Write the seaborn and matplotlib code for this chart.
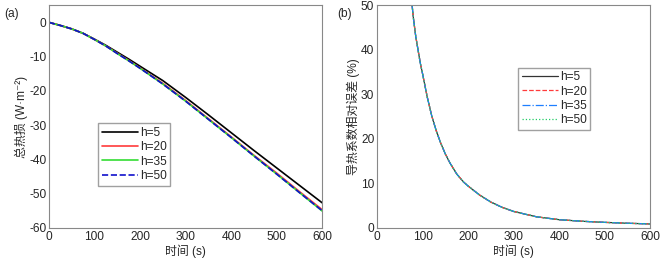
import numpy as np
import pandas as pd
import matplotlib
matplotlib.use('Agg')
import matplotlib.pyplot as plt
import seaborn as sns

# (a) total heat loss
t_a = [0, 25, 50, 75, 100, 125, 150, 175, 200, 250, 300, 350, 400, 450, 500, 550, 600]
loss_h5 = [0, -0.9, -1.9, -3.2, -4.9, -6.7, -8.7, -10.7, -12.8, -17.0, -21.9, -27.0, -32.2, -37.4, -42.5, -47.6, -52.7]
loss_h20 = [0, -0.9, -1.9, -3.2, -5.0, -6.9, -9.0, -11.1, -13.3, -17.8, -22.8, -28.1, -33.4, -38.8, -44.0, -49.4, -54.7]
loss_h35 = [0, -0.9, -1.9, -3.2, -5.0, -6.9, -9.1, -11.2, -13.4, -18.0, -23.0, -28.3, -33.6, -39.0, -44.3, -49.7, -55.1]
loss_h50 = [0, -0.9, -1.9, -3.2, -5.0, -6.9, -9.1, -11.2, -13.4, -18.0, -23.0, -28.3, -33.6, -39.0, -44.3, -49.7, -55.0]

# (b) relative error of thermal conductivity (all four curves overlap)
t_b = [77, 80, 85, 90, 95, 100, 110, 120, 130, 140, 150, 160, 175, 190, 200, 225, 250, 275, 300, 350, 400, 450, 500, 550, 600]
err = [50, 47, 43, 40, 37, 34.6, 29.5, 25.2, 21.8, 19.0, 16.6, 14.6, 12.1, 10.3, 9.4, 7.4, 5.8, 4.6, 3.7, 2.5, 1.85, 1.5, 1.25, 1.05, 0.9]

labels = ['h=5', 'h=20', 'h=35', 'h=50']

sns.set_theme(style='white')
plt.rcParams['font.family'] = ['Liberation Sans', 'Noto Sans CJK SC', 'DejaVu Sans']
plt.rcParams['axes.unicode_minus'] = False

df_a = pd.concat([pd.DataFrame({'t': t_a, 'v': v, 'h': lab})
                  for v, lab in zip([loss_h5, loss_h20, loss_h35, loss_h50], labels)])
df_b = pd.concat([pd.DataFrame({'t': t_b, 'v': err, 'h': lab}) for lab in labels])

fig, (ax1, ax2) = plt.subplots(1, 2, figsize=(6.61, 2.62), dpi=100)
fig.subplots_adjust(left=0.074, right=0.984, top=0.98, bottom=0.13, wspace=0.2)

fs = 8.6
cols_a = ['#000000', '#ff3b3b', '#33dd33', '#1010cc']
styles_a = ['-', '-', '-', '--']
for lab, c, ls in zip(labels, cols_a, styles_a):
    sns.lineplot(data=df_a[df_a['h'] == lab], x='t', y='v', ax=ax1, color=c,
                 linestyle=ls, linewidth=1.2, label=lab)

cols_b = ['#333333', '#ff3b3b', '#1e7fff', '#22cc66']
styles_b = ['-', '--', '-.', ':']
for lab, c, ls in zip(labels, cols_b, styles_b):
    sns.lineplot(data=df_b[df_b['h'] == lab], x='t', y='v', ax=ax2, color=c,
                 linestyle=ls, linewidth=0.9, label=lab)

ax1.set_xlim(0, 600)
ax1.set_ylim(-60, 5)
ax1.set_yticks(range(-60, 1, 10))
ax1.set_xticks(range(0, 601, 100))
ax1.set_xlabel('时间 (s)', fontsize=fs, labelpad=1)
ax1.set_ylabel('总热损 (W·m⁻²)', fontsize=fs, labelpad=1)

ax2.set_xlim(0, 600)
ax2.set_ylim(0, 50)
ax2.set_xticks(range(0, 601, 100))
ax2.set_yticks(range(0, 51, 10))
ax2.set_xlabel('时间 (s)', fontsize=fs, labelpad=1)
ax2.set_ylabel('导热系数相对误差 (%)', fontsize=fs, labelpad=1)

for ax in (ax1, ax2):
    ax.tick_params(axis='both', labelsize=fs, length=0, pad=2)
    for s in ax.spines.values():
        s.set_edgecolor('#888888')
        s.set_linewidth(0.8)

leg1 = ax1.legend(loc='lower left', bbox_to_anchor=(0.18, 0.19), fontsize=fs,
                  frameon=True, fancybox=False, handlelength=3.0, handletextpad=0.2,
                  borderpad=0.3, labelspacing=0.2, borderaxespad=0)
leg1.get_frame().set_edgecolor('#888888')
leg2 = ax2.legend(loc='lower left', bbox_to_anchor=(0.516, 0.44), fontsize=fs,
                  frameon=True, fancybox=False, handlelength=3.0, handletextpad=0.2,
                  borderpad=0.3, labelspacing=0.2, borderaxespad=0)
leg2.get_frame().set_edgecolor('#888888')

fig.text(0.006, 0.935, '(a)', fontsize=fs)
fig.text(0.51, 0.935, '(b)', fontsize=fs)

fig.savefig('out.png', dpi=100)
